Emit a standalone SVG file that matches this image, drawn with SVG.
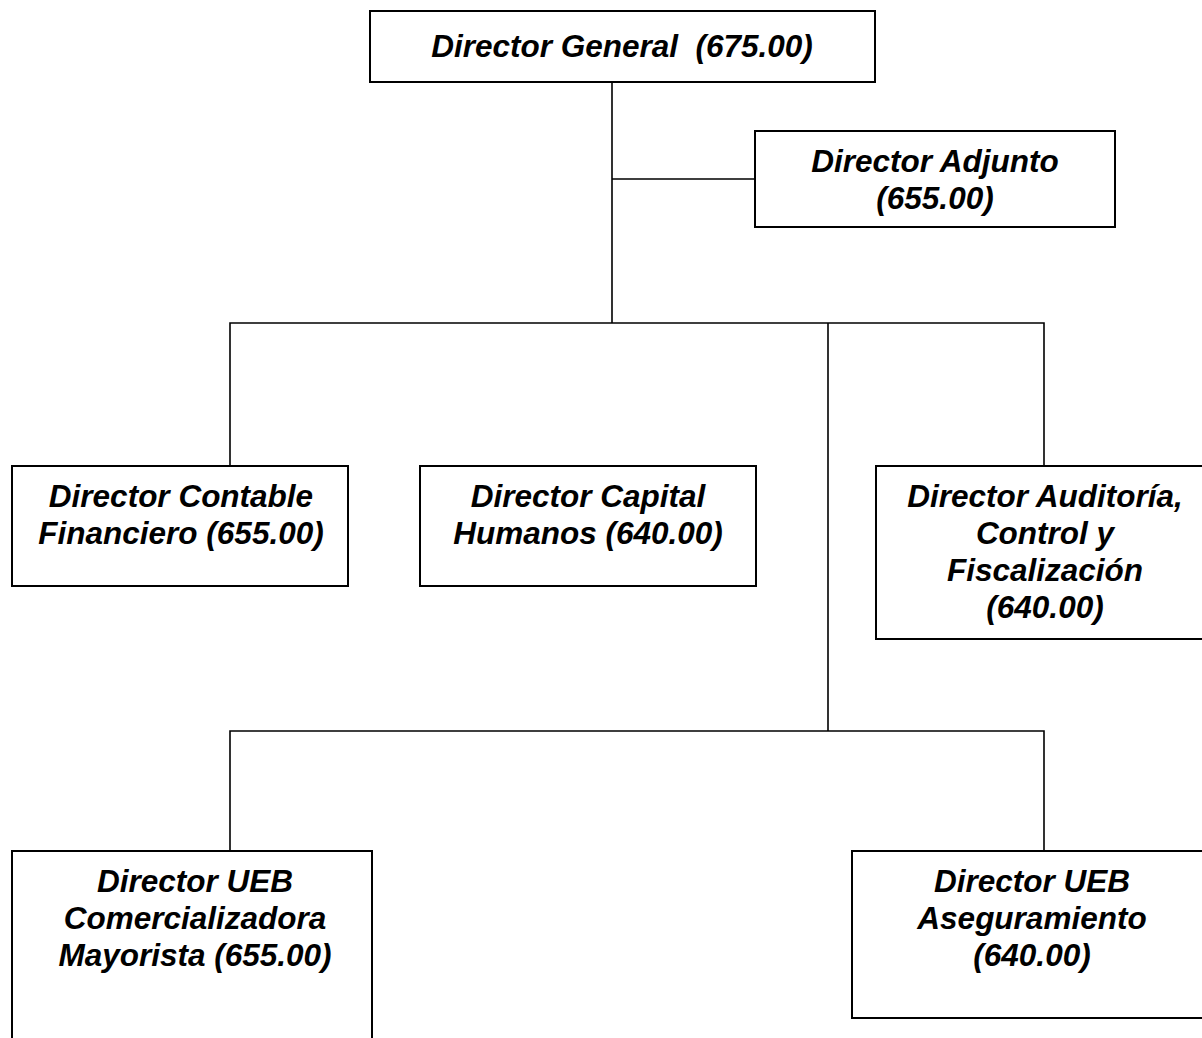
<svg xmlns="http://www.w3.org/2000/svg" width="1202" height="1038" viewBox="0 0 1202 1038">
<style>
.box{fill:#fff;stroke:#000;stroke-width:2}
.con{fill:none;stroke:#000;stroke-width:1.6}
text{font-family:"Liberation Sans",Arial,sans-serif;font-weight:bold;font-style:italic;font-size:31.5px;fill:#000;text-anchor:middle}
</style>
<rect width="1202" height="1038" fill="#fff"/>
<g id="connectors">
<path class="con" d="M612 82V323M612 179H755M230 466V323H1044V466M828 323V731M230 850V731H1044V850"/>
</g>
<g id="n-general">
<rect class="box" x="370" y="11" width="505" height="71"/>
<text x="622" y="57" xml:space="preserve">Director General  (675.00)</text>
</g>
<g id="n-adjunto">
<rect class="box" x="755" y="131" width="360" height="96"/>
<text x="935" y="172">Director Adjunto</text>
<text x="935" y="209">(655.00)</text>
</g>
<g id="n-contable">
<rect class="box" x="12" y="466" width="336" height="120"/>
<text x="181" y="507">Director Contable</text>
<text x="181" y="544">Financiero (655.00)</text>
</g>
<g id="n-capital">
<rect class="box" x="420" y="466" width="336" height="120"/>
<text x="588" y="507">Director Capital</text>
<text x="588" y="544">Humanos (640.00)</text>
</g>
<g id="n-auditoria">
<rect class="box" x="876" y="466" width="330" height="173"/>
<text x="1045" y="507">Director Auditoría,</text>
<text x="1045" y="544">Control y</text>
<text x="1045" y="581">Fiscalización</text>
<text x="1045" y="618">(640.00)</text>
</g>
<g id="n-comercializadora">
<rect class="box" x="12" y="851" width="360" height="200"/>
<text x="195" y="892">Director UEB</text>
<text x="195" y="929">Comercializadora</text>
<text x="195" y="966">Mayorista (655.00)</text>
</g>
<g id="n-aseguramiento">
<rect class="box" x="852" y="851" width="354" height="167"/>
<text x="1032" y="892">Director UEB</text>
<text x="1032" y="929">Aseguramiento</text>
<text x="1032" y="966">(640.00)</text>
</g>
</svg>
